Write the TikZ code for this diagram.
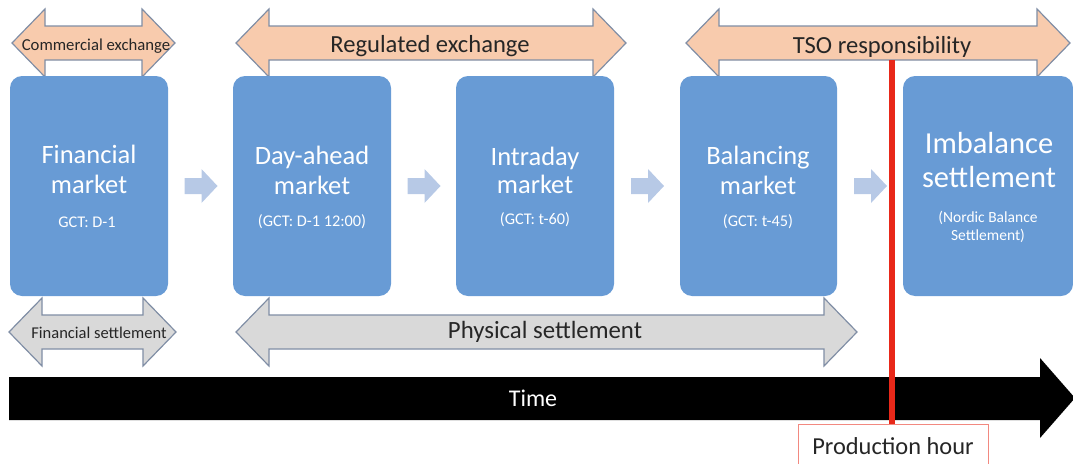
\documentclass[tikz,border=0pt]{standalone}
\usepackage{fontspec}
\setmainfont{Carlito}
\usetikzlibrary{calc}

\definecolor{mktblue}{RGB}{104,155,213}
\definecolor{chevblue}{RGB}{183,201,230}
\definecolor{peach}{RGB}{248,203,173}
\definecolor{lightgrey}{RGB}{217,217,217}
\definecolor{edgegrey}{RGB}{128,142,165}
\definecolor{textgrey}{RGB}{38,38,38}
\definecolor{phred}{RGB}{232,40,25}

% double block arrow: style, left tip, right tip, middle y
\newcommand{\dblarrow}[4]{%
  \draw[#1] (#2,#4) -- (#2+33,#4-34) -- (#2+33,#4-17) -- (#3-33,#4-17)
    -- (#3-33,#4-34) -- (#3,#4) -- (#3-33,#4+34) -- (#3-33,#4+17)
    -- (#2+33,#4+17) -- (#2+33,#4+34) -- cycle;}

\begin{document}
\begin{tikzpicture}[x=1pt, y=-1pt,
  mkt/.style={fill=mktblue, rounded corners=12pt, minimum width=158pt,
    minimum height=220pt, inner sep=0pt},
  ttl/.style={text=white, anchor=base, inner sep=0pt, font=\fontsize{26.5}{30}\selectfont},
  gct/.style={text=white, anchor=base, inner sep=0pt, font=\fontsize{16.3}{20}\selectfont},
  lbl/.style={text=textgrey, anchor=base, inner sep=0pt},
  exch/.style={fill=peach, draw=edgegrey, line width=1.2pt},
  sett/.style={fill=lightgrey, draw=edgegrey, line width=1.2pt},
  chev/.style={fill=chevblue}]

\useasboundingbox (0,0) rectangle (1073,463);

% exchanges on top
\dblarrow{exch}{12}{175}{43}
\dblarrow{exch}{236}{626}{43}
\dblarrow{exch}{686}{1070}{43}
\node[lbl, font=\fontsize{16.7}{20}\selectfont] (comEx) at (96,50) {Commercial exchange};
\node[lbl, font=\fontsize{24.6}{28}\selectfont] (regEx) at (430,52) {Regulated exchange};
\node[lbl, font=\fontsize{24.6}{28}\selectfont] (tso) at (882,53) {TSO responsibility};

% settlements below
\dblarrow{sett}{9}{176}{332}
\dblarrow{sett}{236}{857}{332}
\node[lbl, font=\fontsize{16.5}{20}\selectfont] (finSet) at (99,338) {Financial settlement};
\node[lbl, font=\fontsize{24.8}{28}\selectfont] (physSet) at (545,338) {Physical settlement};

% markets
\node[mkt] (fin) at (89,186) {};
\node[mkt] (day) at (312,186) {};
\node[mkt] (intra) at (535,186) {};
\node[mkt, minimum width=157pt] (bal) at (758.5,186) {};
\node[mkt, minimum width=170pt] (imb) at (988,186) {};

\node[ttl] (finA) at (89,163) {Financial};
\node[ttl] (finB) at (89,193) {market};
\node[gct] (finC) at (87,227) {GCT: D-1};

\node[ttl] (dayA) at (312,164) {Day-ahead};
\node[ttl] (dayB) at (312,194) {market};
\node[gct] (dayC) at (312,226) {(GCT: D-1 12:00)};

\node[ttl] (intraA) at (535,165) {Intraday};
\node[ttl] (intraB) at (535,193) {market};
\node[gct] (intraC) at (535,224) {(GCT: t-60)};

\node[ttl] (balA) at (758,164) {Balancing};
\node[ttl] (balB) at (758,194) {market};
\node[gct] (balC) at (758,226) {(GCT: t-45)};

\node[ttl, font=\fontsize{30.5}{34}\selectfont] (imbA) at (989,153) {Imbalance};
\node[ttl, font=\fontsize{30.5}{34}\selectfont] (imbB) at (989,187) {settlement};
\node[gct, font=\fontsize{15.5}{18}\selectfont] (imbC) at (988,222) {(Nordic Balance};
\node[gct, font=\fontsize{15.5}{18}\selectfont] (imbD) at (988,240) {Settlement)};

% steps between markets
\foreach \a/\b in {fin/day,day/intra,intra/bal,bal/imb}{
  \coordinate (m\a) at ($(\a.east)!0.5!(\b.west)$);
  \fill[chev] ($(m\a)+(-16,-8)$) -- ($(m\a)+(1,-8)$) -- ($(m\a)+(1,-17)$)
    -- ($(m\a)+(17,0)$) -- ($(m\a)+(1,17)$) -- ($(m\a)+(1,8)$)
    -- ($(m\a)+(-16,8)$) -- cycle;
}

% time axis
\fill[black] (9,377) -- (1040,377) -- (1040,358) -- (1075,398)
  -- (1040,438) -- (1040,420) -- (9,420) -- cycle;
\node[text=white, inner sep=0pt, font=\fontsize{24}{28}\selectfont] (time) at (533,398) {Time};

% production hour
\node[draw=phred!55, fill=white, line width=0.8pt, minimum width=190pt,
  minimum height=44pt, inner sep=0pt, font=\fontsize{24.4}{28}\selectfont,
  text=textgrey] (prod) at (893,446) {Production hour};
\coordinate (phTop) at (892,60);
\draw[phred, line width=6pt] (phTop) -- (prod.north -| phTop);

\end{tikzpicture}
\end{document}
